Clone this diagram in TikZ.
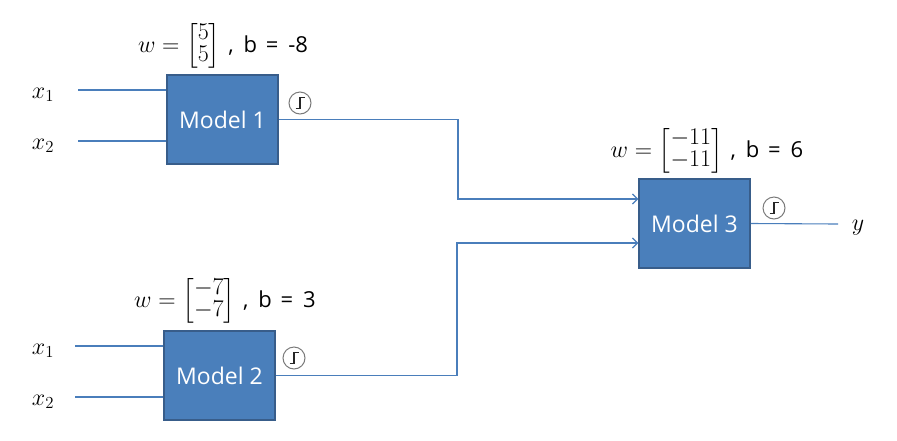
\RequirePackage{fix-cm}
\documentclass[tikz,border=0pt]{standalone}
\usepackage{amsmath}
\usepackage{fontspec}
\setsansfont{Open Sans}
\usetikzlibrary{arrows.meta}
\definecolor{boxfill}{HTML}{4A7FBB}
\definecolor{boxline}{HTML}{385D8A}
\definecolor{wirec}{HTML}{4A7EBB}
\definecolor{stepgray}{HTML}{7A7A7A}
\newcommand{\wvec}[2]{{\delimiterfactor=870\delimitershortfall=12pt\left[\renewcommand{\arraystretch}{0.75}\begin{array}{@{}c@{}}#1\\#2\end{array}\right]}}
\newcommand{\bpart}[1]{\textsf{\fontsize{22}{26}\selectfont\hspace{0.35em},\hspace{0.45em}b\hspace{0.4em}=\hspace{0.45em}#1}}
\begin{document}
\begin{tikzpicture}[x=1pt,y=-1pt,
 model/.style={draw=boxline, line width=1.5pt, fill=boxfill, minimum width=111pt, minimum height=89pt, inner sep=0pt, text=white, font=\sffamily\fontsize{23}{27}\selectfont},
 wire/.style={draw=wirec, line width=1.1pt},
 arr/.style={wire, -{Straight Barb[length=5pt,width=10pt]}},
 lab/.style={font=\fontsize{24}{28}\selectfont, inner sep=0pt},
 plab/.style={font=\fontsize{24}{28}\selectfont, inner sep=0pt},
 stepc/.style={circle, draw=stepgray, line width=1pt, minimum size=22pt, inner sep=0pt},
 stepg/.style={draw=black!85, line width=1.2pt}]
\useasboundingbox (0,0) rectangle (897,440);

% boxes
\node[model] (m1) at (222.5,119.5) {Model 1};
\node[model] (m2) at (219.5,375.5) {Model 2};
\node[model] (m3) at (694.5,223.5) {Model 3};

% parameter labels
\node[plab] (p1) at (223,46) {$w=\wvec{5}{5}$\bpart{-8}};
\node[plab] (p2) at (225,301) {$w=\wvec{-7}{-7}$\bpart{3}};
\node[plab] (p3) at (707,151) {$w=\wvec{-11}{-11}$\bpart{6}};

% inputs
\node[lab] (a1) at (43,95) {$x_1$};
\node[lab] (a2) at (43,146) {$x_2$};
\node[lab] (b1) at (43,351) {$x_1$};
\node[lab] (b2) at (43,402) {$x_2$};
\coordinate (sa1) at (78,90);
\coordinate (sa2) at (78,141);
\coordinate (sb1) at (75,346);
\coordinate (sb2) at (75,397);
\draw[wire] (sa1) -- (m1.west |- sa1);
\draw[wire] (sa2) -- (m1.west |- sa2);
\draw[wire] (sb1) -- (m2.west |- sb1);
\draw[wire] (sb2) -- (m2.west |- sb2);

% connections
\coordinate (j1) at (458,199);
\coordinate (j2) at (457,243);
\draw[arr] (m1.east) -| (j1) -- (m3.west |- j1);
\draw[arr] (m2.east) -| (j2) -- (m3.west |- j2);

% output
\coordinate (o) at (838,224);
\draw[wire] (m3.east) -- (o);
\node[lab] (y) at (858,228) {$y$};

% step symbols
\foreach \n/\x/\y in {c1/300/103, c2/294/358, c3/774/208}{
  \node[stepc] (\n) at (\x,\y) {};
  \draw[stepg] ([shift={(-4.5,5.5)}]\n.center) -- ([shift={(0,5.5)}]\n.center) -- ([shift={(0,-5.5)}]\n.center) -- ([shift={(4.5,-5.5)}]\n.center);
}
\end{tikzpicture}
\end{document}
